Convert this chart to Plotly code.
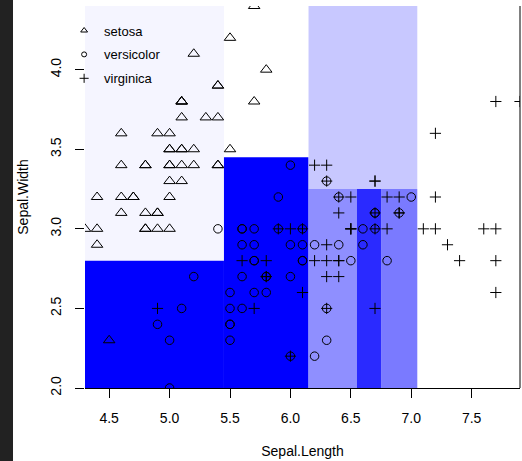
import plotly.graph_objects as go

# ---- data: iris Sepal.Length / Sepal.Width ----
setosa_length = [5.1, 4.9, 4.7, 4.6, 5.0, 5.4, 4.6, 5.0, 4.4, 4.9, 5.4, 4.8, 4.8, 4.3, 5.8, 5.7, 5.4, 5.1, 5.7, 5.1,
                 5.4, 5.1, 4.6, 5.1, 4.8, 5.0, 5.0, 5.2, 5.2, 4.7, 4.8, 5.4, 5.2, 5.5, 4.9, 5.0, 5.5, 4.9, 4.4, 5.1,
                 5.0, 4.5, 4.4, 5.0, 5.1, 4.8, 5.1, 4.6, 5.3, 5.0]
setosa_width = [3.5, 3.0, 3.2, 3.1, 3.6, 3.9, 3.4, 3.4, 2.9, 3.1, 3.7, 3.4, 3.0, 3.0, 4.0, 4.4, 3.9, 3.5, 3.8, 3.8,
                3.4, 3.7, 3.6, 3.3, 3.4, 3.0, 3.4, 3.5, 3.4, 3.2, 3.1, 3.4, 4.1, 4.2, 3.1, 3.2, 3.5, 3.6, 3.0, 3.4,
                3.5, 2.3, 3.2, 3.5, 3.8, 3.0, 3.8, 3.2, 3.7, 3.3]
versicolor_length = [7.0, 6.4, 6.9, 5.5, 6.5, 5.7, 6.3, 4.9, 6.6, 5.2, 5.0, 5.9, 6.0, 6.1, 5.6, 6.7, 5.6, 5.8, 6.2, 5.6,
                     5.9, 6.1, 6.3, 6.1, 6.4, 6.6, 6.8, 6.7, 6.0, 5.7, 5.5, 5.5, 5.8, 6.0, 5.4, 6.0, 6.7, 6.3, 5.6, 5.5,
                     5.5, 6.1, 5.8, 5.0, 5.6, 5.7, 5.7, 6.2, 5.1, 5.7]
versicolor_width = [3.2, 3.2, 3.1, 2.3, 2.8, 2.8, 3.3, 2.4, 2.9, 2.7, 2.0, 3.0, 2.2, 2.9, 2.9, 3.1, 3.0, 2.7, 2.2, 2.5,
                    3.2, 2.8, 2.5, 2.8, 2.9, 3.0, 2.8, 3.0, 2.9, 2.6, 2.4, 2.4, 2.7, 2.7, 3.0, 3.4, 3.1, 2.3, 3.0, 2.5,
                    2.6, 3.0, 2.6, 2.3, 2.7, 3.0, 2.9, 2.9, 2.5, 2.8]
virginica_length = [6.3, 5.8, 7.1, 6.3, 6.5, 7.6, 4.9, 7.3, 6.7, 7.2, 6.5, 6.4, 6.8, 5.7, 5.8, 6.4, 6.5, 7.7, 7.7, 6.0,
                    6.9, 5.6, 7.7, 6.3, 6.7, 7.2, 6.2, 6.1, 6.4, 7.2, 7.4, 7.9, 6.4, 6.3, 6.1, 7.7, 6.3, 6.4, 6.0, 6.9,
                    6.7, 6.9, 5.8, 6.8, 6.7, 6.7, 6.3, 6.5, 6.2, 5.9]
virginica_width = [3.3, 2.7, 3.0, 2.9, 3.0, 3.0, 2.5, 2.9, 2.5, 3.6, 3.2, 2.7, 3.0, 2.5, 2.8, 3.2, 3.0, 3.8, 2.6, 2.2,
                   3.2, 2.8, 2.8, 2.7, 3.3, 3.2, 2.8, 3.0, 2.8, 3.0, 2.8, 3.8, 2.8, 2.8, 2.6, 3.0, 3.4, 3.1, 3.0, 3.1,
                   3.1, 3.1, 2.7, 3.2, 3.3, 3.0, 2.5, 3.0, 3.4, 3.0]

# ---- partition regions (tree splits) ----
region_x0 = [4.3, 4.3, 5.45, 6.15, 6.15, 6.55, 6.75]
region_x1 = [5.45, 5.45, 6.15, 7.05, 6.55, 6.75, 7.05]
region_y0 = [2.8, 2.0, 2.0, 3.25, 2.0, 2.0, 2.0]
region_y1 = [4.4, 2.8, 3.45, 4.4, 3.25, 3.25, 3.25]
region_color = ['#f5f5ff', '#0000ff', '#0000ff', '#c8c8ff', '#8f8fff', '#2a2aff', '#7a7aff']

x_ticks = [4.5, 5.0, 5.5, 6.0, 6.5, 7.0, 7.5]
y_ticks = [2.0, 2.5, 3.0, 3.5, 4.0]
x_range = [4.3, 7.9]
y_range = [2.0, 4.4]

FONT = "Liberation Sans, Arial, sans-serif"
fig = go.Figure()

species = [
    ("setosa", setosa_length, setosa_width, "triangle-up-open", 10, 6),
    ("versicolor", versicolor_length, versicolor_width, "circle-open", 8.5, 5),
    ("virginica", virginica_length, virginica_width, "cross-thin-open", 8, 6.5),
]
for i, (name, xs, ys, sym, size, lsize) in enumerate(species):
    fig.add_trace(go.Scatter(
        x=xs, y=ys, mode="markers", name=name, showlegend=False, legendgroup=name,
        marker=dict(symbol=sym, size=size, color="black", line=dict(color="black", width=1)),
        cliponaxis=True,
    ))
    # legend key (smaller symbol, as in the reference legend)
    fig.add_trace(go.Scatter(
        x=[None], y=[None], mode="markers", name=name, legendgroup=name,
        marker=dict(symbol=sym, size=lsize, color="black", line=dict(color="black", width=1)),
    ))

shapes = []
for x0, x1, y0, y1, c in zip(region_x0, region_x1, region_y0, region_y1, region_color):
    shapes.append(dict(type="rect", xref="x", yref="y", x0=x0, x1=x1, y0=y0, y1=y1,
                       fillcolor=c, line=dict(width=0), layer="below"))
# right frame line
shapes.append(dict(type="line", xref="paper", yref="paper", x0=1, x1=1, y0=0, y1=1,
                   line=dict(color="black", width=1)))
# dark strip at the left edge of the screenshot
shapes.append(dict(type="rect", xref="paper", yref="paper", x0=-0.1954, x1=-0.1655, y0=-0.2, y1=1.03,
                   fillcolor="#222222", line=dict(width=0), layer="above"))

fig.update_layout(
    width=522, height=461,
    margin=dict(l=85, r=2, t=6, b=73),
    paper_bgcolor="white", plot_bgcolor="white",
    font=dict(family=FONT, size=14, color="black"),
    shapes=shapes,
    showlegend=True,
    legend=dict(x=-0.048, y=0.975, xanchor="left", yanchor="top", bgcolor="rgba(0,0,0,0)",
                font=dict(size=13), tracegroupgap=4, itemclick=False),
    xaxis=dict(range=x_range, tickvals=x_ticks, ticktext=[f"{v:.1f}" for v in x_ticks],
               ticks="outside", ticklen=9, tickcolor="black", tickwidth=1,
               showline=True, linecolor="black", linewidth=1, showgrid=False, zeroline=False,
               ticklabelstandoff=8, tickfont=dict(size=14),
               title=dict(text="Sepal.Length", standoff=21, font=dict(size=14))),
    yaxis=dict(range=y_range, tickvals=y_ticks, ticktext=[f"{v:.1f}" for v in y_ticks],
               ticks="outside", ticklen=9, tickcolor="black", tickwidth=1, tickangle=-90,
               showline=False, showgrid=False, zeroline=False,
               ticklabelstandoff=8, tickfont=dict(size=14),
               title=dict(text="Sepal.Width", standoff=16, font=dict(size=14))),
)

fig.write_html("out.html")
